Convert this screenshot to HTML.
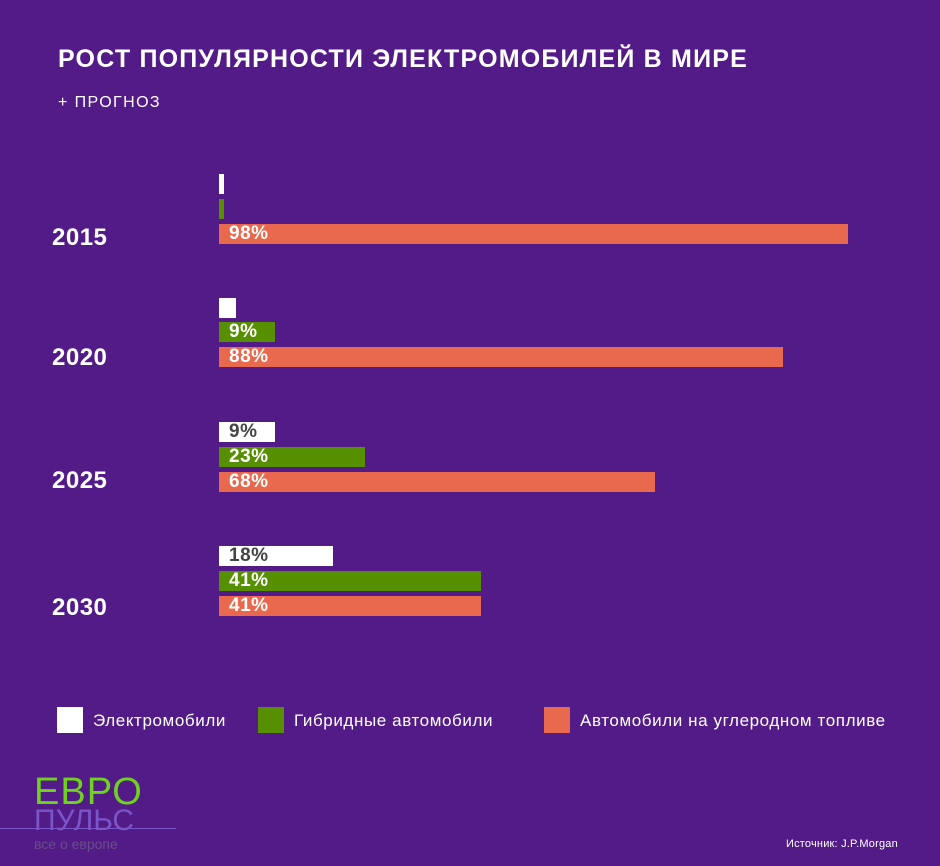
<!DOCTYPE html>
<html><head><meta charset="utf-8"><style>
body{margin:0;width:940px;height:866px;background:#531b87;position:relative;overflow:hidden;font-family:"Liberation Sans",sans-serif;color:#fff}
.a{position:absolute}
.b{position:absolute;height:20px;left:219px;font-weight:bold;font-size:19px;line-height:20px;box-sizing:border-box;padding-left:10px;letter-spacing:0.5px}
.w{background:#fff;color:#444}.g{background:#568f00}.o{background:#e8694d}
.y{position:absolute;left:52px;font-weight:bold;font-size:24px;letter-spacing:0.5px}
.lg{position:absolute;top:707px;width:26px;height:26px}
.lt{position:absolute;top:711px;font-size:17px;letter-spacing:0.6px}
</style></head><body>
<div class="a" style="left:58px;top:45px;font-size:25px;font-weight:bold;letter-spacing:1.2px">РОСТ ПОПУЛЯРНОСТИ ЭЛЕКТРОМОБИЛЕЙ В МИРЕ</div>
<div class="a" style="left:58px;top:94px;font-size:16px;letter-spacing:1.4px">+ ПРОГНОЗ</div>

<div class="y" style="top:224px">2015</div>
<div class="b w" style="top:174px;width:5px;padding:0"></div>
<div class="b g" style="top:199px;width:5px;padding:0"></div>
<div class="b o" style="top:224px;width:629px">98%</div>

<div class="y" style="top:344px">2020</div>
<div class="b w" style="top:298px;width:17px;padding:0"></div>
<div class="b g" style="top:322px;width:56px">9%</div>
<div class="b o" style="top:347px;width:564px">88%</div>

<div class="y" style="top:467px">2025</div>
<div class="b w" style="top:422px;width:56px">9%</div>
<div class="b g" style="top:447px;width:146px">23%</div>
<div class="b o" style="top:472px;width:436px">68%</div>

<div class="y" style="top:594px">2030</div>
<div class="b w" style="top:546px;width:114px">18%</div>
<div class="b g" style="top:571px;width:262px">41%</div>
<div class="b o" style="top:596px;width:262px">41%</div>

<div class="lg" style="left:57px;background:#fff"></div><div class="lt" style="left:93px">Электромобили</div>
<div class="lg" style="left:258px;background:#568f00"></div><div class="lt" style="left:294px">Гибридные автомобили</div>
<div class="lg" style="left:544px;background:#e8694d"></div><div class="lt" style="left:580px">Автомобили на углеродном топливе</div>

<div class="a" style="left:34px;top:772px;font-size:38px;color:#6fd21f;letter-spacing:1px;line-height:40px">ЕВРО</div>
<div class="a" style="left:34px;top:806px;font-size:30px;color:#7a55c8;line-height:30px">ПУЛЬС</div>
<div class="a" style="left:0;top:828px;width:176px;height:1px;background:#7a55c8"></div>
<div class="a" style="left:34px;top:836px;font-size:14px;color:#6a4d8a">все о европе</div>
<div class="a" style="left:786px;top:838px;font-size:11px;letter-spacing:0.2px">Источник:  J.P.Morgan</div>
</body></html>
